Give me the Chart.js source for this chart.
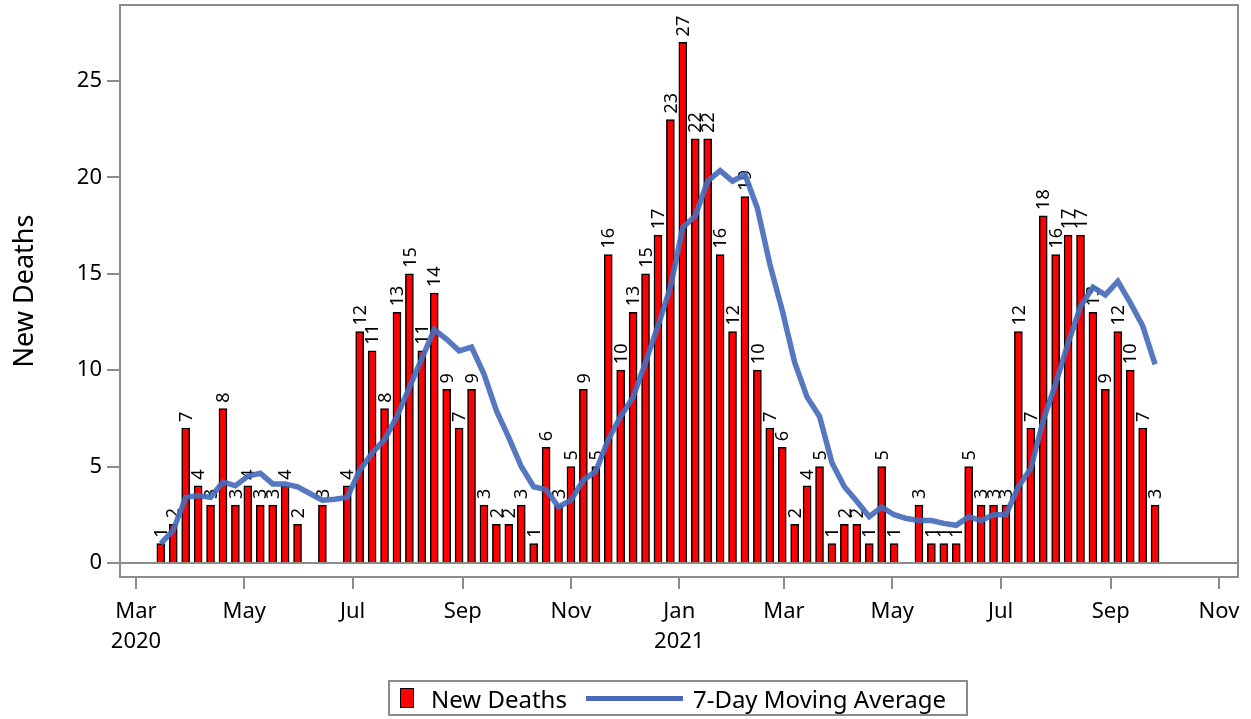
<!DOCTYPE html>
<html>
<head>
<meta charset="utf-8">
<script src="https://cdn.jsdelivr.net/npm/chart.js@4.4.1/dist/chart.umd.min.js"></script>
<style>
  html, body { margin: 0; padding: 0; background: #fff; }
  #wrap { position: relative; width: 1251px; height: 719px; }
  #legend {
    position: absolute; left: 388px; top: 680px; width: 580px; height: 36px;
    box-sizing: border-box; border: 2px solid #8c8c8c;
    display: flex; align-items: center;
    font-family: "Noto Sans", sans-serif; font-size: 24px; color: #000;
  }
  #legend .sw { width: 12px; height: 18px; background: #ff0000; border: 1.5px solid #000; margin: 0 17px 0 10px; }
  #legend .ln { width: 97px; height: 5px; background: #4a6ab8; margin: 0 10px 0 19px; }
</style>
</head>
<body>
<div id="wrap">
  <canvas id="chart" width="1251" height="719"></canvas>
  <div id="legend">
    <span class="sw"></span><span>New Deaths</span><span class="ln"></span><span>7-Day Moving Average</span>
  </div>
</div>
<script>
// weekly points, one per Sunday
const weekDates = [
  '2020-03-15','2020-03-22','2020-03-29','2020-04-05','2020-04-12','2020-04-19','2020-04-26',
  '2020-05-03','2020-05-10','2020-05-17','2020-05-24','2020-05-31','2020-06-07','2020-06-14',
  '2020-06-21','2020-06-28','2020-07-05','2020-07-12','2020-07-19','2020-07-26','2020-08-02',
  '2020-08-09','2020-08-16','2020-08-23','2020-08-30','2020-09-06','2020-09-13','2020-09-20',
  '2020-09-27','2020-10-04','2020-10-11','2020-10-18','2020-10-25','2020-11-01','2020-11-08',
  '2020-11-15','2020-11-22','2020-11-29','2020-12-06','2020-12-13','2020-12-20','2020-12-27',
  '2021-01-03','2021-01-10','2021-01-17','2021-01-24','2021-01-31','2021-02-07','2021-02-14',
  '2021-02-21','2021-02-28','2021-03-07','2021-03-14','2021-03-21','2021-03-28','2021-04-04',
  '2021-04-11','2021-04-18','2021-04-25','2021-05-02','2021-05-09','2021-05-16','2021-05-23',
  '2021-05-30','2021-06-06','2021-06-13','2021-06-20','2021-06-27','2021-07-04','2021-07-11',
  '2021-07-18','2021-07-25','2021-08-01','2021-08-08','2021-08-15','2021-08-22','2021-08-29',
  '2021-09-05','2021-09-12','2021-09-19','2021-09-26'
];

const newDeaths = [
  1, 2, 7, 4, 3, 8, 3, 4, 3, 3, 4, 2, null, 3, null, 4, 12, 11, 8, 13,
  15, 11, 14, 9, 7, 9, 3, 2, 2, 3, 1, 6, 3, 5, 9, 5, 16, 10, 13, 15,
  17, 23,
  27, 22, 22, 16, 12, 19, 10, 7, 6, 2, 4, 5, 1, 2, 2, 1, 5, 1, null, 3,
  1, 1, 1, 5, 3, 3, 3, 12, 7, 18, 16, 17, 17, 13, 9, 12, 10, 7, 3
];

const movingAvg = [
  1.0, 1.7, 3.4, 3.5, 3.4, 4.2, 4.0, 4.5, 4.65, 4.1, 4.1, 3.95, 3.6, 3.25, 3.3, 3.4,
  4.8, 5.7, 6.4, 7.6, 9.1, 10.6, 12.1, 11.6, 11.0, 11.2, 9.8, 7.9, 6.5, 5.0, 3.95,
  3.8, 2.9, 3.25, 4.3, 4.75, 6.4, 7.6, 8.6, 10.4, 12.3, 14.3,
  17.4, 18.0, 19.8, 20.35, 19.8, 20.15, 18.4, 15.5, 13.1, 10.4, 8.6, 7.6, 5.2, 3.95,
  3.2, 2.4, 2.9, 2.5, 2.3, 2.2, 2.2, 2.05, 1.95, 2.4, 2.2, 2.5, 2.5, 3.95, 4.9,
  7.4, 9.3, 11.4, 13.3, 14.3, 13.9, 14.6, 13.5, 12.3, 10.3
];

const tickDates = ['2020-03-01','2020-05-01','2020-07-01','2020-09-01','2020-11-01','2021-01-01',
                   '2021-03-01','2021-05-01','2021-07-01','2021-09-01','2021-11-01'];
const tickLabels = [['Mar','2020'],'May','Jul','Sep','Nov',['Jan','2021'],'Mar','May','Jul','Sep','Nov'];
const yTicks = [0, 5, 10, 15, 20, 25];

const dayNum = s => {
  const [y, m, d] = s.split('-').map(Number);
  return Date.UTC(y, m - 1, d) / 864e5;
};

const xs = weekDates.map(dayNum);
const tickDays = tickDates.map(dayNum);
const FONT = '"Noto Sans", sans-serif';
const GRAY = '#8c8c8c';

const frame = {
  id: 'frame',
  beforeDatasetsDraw(chart) {
    const { ctx, chartArea: a, scales: { y } } = chart;
    const y0 = y.getPixelForValue(0);
    ctx.save();
    ctx.strokeStyle = GRAY;
    ctx.lineWidth = 2;
    ctx.beginPath();
    ctx.moveTo(a.left, y0);
    ctx.lineTo(a.right, y0);
    ctx.stroke();
    ctx.restore();
  },
  afterDraw(chart) {
    const { ctx, chartArea: a } = chart;
    ctx.save();
    ctx.strokeStyle = GRAY;
    ctx.lineWidth = 2;
    ctx.strokeRect(a.left, a.top, a.right - a.left, a.bottom - a.top);
    ctx.restore();
  }
};

const barLabels = {
  id: 'barLabels',
  afterDatasetDraw(chart, args) {
    if (args.meta.type !== 'bar') return;
    const ctx = chart.ctx;
    ctx.save();
    ctx.font = '18px ' + FONT;
    ctx.fillStyle = '#000';
    ctx.textAlign = 'left';
    ctx.textBaseline = 'middle';
    args.meta.data.forEach((bar, i) => {
      const v = newDeaths[i];
      if (v == null) return;
      ctx.save();
      ctx.translate(bar.x + 1, bar.y - 6);
      ctx.rotate(-Math.PI / 2);
      ctx.fillText(String(v), 0, 0);
      ctx.restore();
    });
    ctx.restore();
  }
};

new Chart(document.getElementById('chart').getContext('2d'), {
  type: 'bar',
  data: {
    datasets: [
      {
        type: 'line',
        label: '7-Day Moving Average',
        data: xs.map((x, i) => ({ x, y: movingAvg[i] })),
        borderColor: 'rgba(70,108,188,0.92)',
        borderWidth: 5.5,
        pointRadius: 0,
        tension: 0,
        order: 0
      },
      {
        type: 'bar',
        label: 'New Deaths',
        data: xs.map((x, i) => ({ x, y: newDeaths[i] })),
        backgroundColor: '#ff0000',
        borderColor: '#000',
        borderWidth: 1.5,
        barThickness: 8,
        order: 1
      }
    ]
  },
  options: {
    responsive: false,
    animation: false,
    layout: { padding: { top: 5, right: 13, bottom: 50, left: 0 } },
    plugins: { legend: { display: false }, tooltip: { enabled: false } },
    scales: {
      x: {
        type: 'linear',
        offset: false,
        min: dayNum('2020-03-01') - 9,
        max: dayNum('2021-11-01') + 10.7,
        afterBuildTicks: s => { s.ticks = tickDays.map(v => ({ value: v })); },
        afterFit: s => { s.height = 92; },
        ticks: {
          callback: (v, i) => tickLabels[i],
          autoSkip: false, maxRotation: 0, padding: 8,
          color: '#000', font: { family: FONT, size: 22, lineHeight: 1.35 }
        },
        grid: { offset: false, drawOnChartArea: false, tickLength: 12, color: GRAY, lineWidth: 2 },
        border: { display: false }
      },
      y: {
        min: -0.73,
        max: 28.94,
        afterBuildTicks: s => { s.ticks = yTicks.map(v => ({ value: v })); },
        afterFit: s => { s.width = 120; s.paddingTop = 0; s.paddingBottom = 0; },
        ticks: { color: '#000', padding: 5, font: { family: FONT, size: 22 } },
        grid: { drawOnChartArea: false, tickLength: 13, color: GRAY, lineWidth: 2 },
        border: { display: false },
        title: {
          display: true, text: 'New Deaths', color: '#000',
          padding: { top: 9, bottom: 4 },
          font: { family: FONT, size: 27 }
        }
      }
    }
  },
  plugins: [frame, barLabels]
});
</script>
</body>
</html>
